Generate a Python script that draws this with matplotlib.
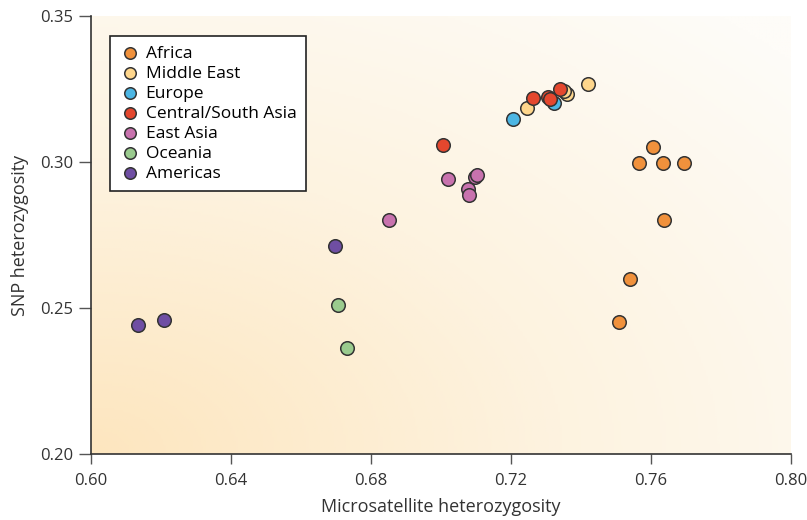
import numpy as np
import matplotlib.pyplot as plt
from matplotlib.colors import LinearSegmentedColormap

plt.rcParams['font.family'] = ['Open Sans', 'DejaVu Sans']

# microsatellite (x) vs SNP (y) heterozygosity per population
africa_x = [0.7606, 0.7566, 0.7634, 0.7694, 0.7637, 0.7540, 0.7509]
africa_y = [0.3051, 0.2997, 0.2997, 0.2997, 0.2801, 0.2599, 0.2452]
mideast_x = [0.7421, 0.7361, 0.7351, 0.7246]
mideast_y = [0.3266, 0.3233, 0.3244, 0.3186]
europe_x = [0.7206, 0.7322]
europe_y = [0.3146, 0.3202]
csasia_x = [0.7340, 0.7305, 0.7311, 0.7262, 0.7005]
csasia_y = [0.3250, 0.3222, 0.3215, 0.3218, 0.3058]
easia_x = [0.6851, 0.7019, 0.7097, 0.7104, 0.7078, 0.7081]
easia_y = [0.2801, 0.2941, 0.2950, 0.2957, 0.2908, 0.2887]
oceania_x = [0.6706, 0.6731]
oceania_y = [0.2511, 0.2364]
americas_x = [0.6696, 0.6133, 0.6209]
americas_y = [0.2711, 0.2441, 0.2459]

x_ticks = [0.60, 0.64, 0.68, 0.72, 0.76, 0.80]
y_ticks = [0.20, 0.25, 0.30, 0.35]

groups = [
    ('Africa', africa_x, africa_y, '#f0913c'),
    ('Middle East', mideast_x, mideast_y, '#fed68c'),
    ('Europe', europe_x, europe_y, '#4cb6e4'),
    ('Central/South Asia', csasia_x, csasia_y, '#e4472e'),
    ('East Asia', easia_x, easia_y, '#c872ae'),
    ('Oceania', oceania_x, oceania_y, '#9acb8e'),
    ('Americas', americas_x, americas_y, '#6f4ea3'),
]

fig = plt.figure(figsize=(8.07, 5.2), dpi=100)
ax = fig.add_axes([0.1128, 0.1269, 0.8674, 0.8423])

# soft radial background, warm at bottom-left fading to white
xx, yy = np.meshgrid(np.linspace(0, 1, 300), np.linspace(0, 1, 200))
r = np.clip(np.sqrt(xx**2 + yy**2) / 1.35, 0, 1)
bg = LinearSegmentedColormap.from_list('bg', ['#fde6bf', '#fdf3e0', '#fefcf8'])
ax.imshow(r, cmap=bg, origin='lower', extent=[0.60, 0.80, 0.20, 0.35],
          aspect='auto', zorder=0)

for name, xs, ys, col in groups:
    ax.scatter(xs, ys, s=95, color=col, edgecolor='#333333', linewidth=1.1,
               label=name, zorder=3)

ax.set_xlim(0.60, 0.80)
ax.set_ylim(0.20, 0.35)
ax.set_xticks(x_ticks)
ax.set_yticks(y_ticks)
ax.set_xticklabels([f'{v:.2f}' for v in x_ticks])
ax.set_yticklabels([f'{v:.2f}' for v in y_ticks])
ax.tick_params(direction='out', width=1, color='#555555',
               labelcolor='#333333', labelsize=12)
ax.tick_params(axis='x', length=7, pad=7)
ax.tick_params(axis='y', length=9, pad=4)
for s in ['top', 'right']:
    ax.spines[s].set_visible(False)
for s in ['left', 'bottom']:
    ax.spines[s].set_color('#333333')
    ax.spines[s].set_linewidth(1.2)

ax.set_xlabel('Microsatellite heterozygosity', fontsize=13, color='#333333', labelpad=6)
ax.set_ylabel('SNP heterozygosity', fontsize=13, color='#333333', labelpad=8)

leg = ax.legend(loc='upper left', bbox_to_anchor=(0.027, 0.954), fontsize=12.5,
                frameon=True, fancybox=False, edgecolor='#222222',
                borderaxespad=0, handletextpad=0.3, labelspacing=0.22,
                borderpad=0.55, handlelength=1.2, markerscale=0.85)
leg.get_frame().set_facecolor('white')
leg.get_frame().set_linewidth(1.2)
leg.get_frame().set_alpha(1)

fig.savefig('out.png', dpi=100)
